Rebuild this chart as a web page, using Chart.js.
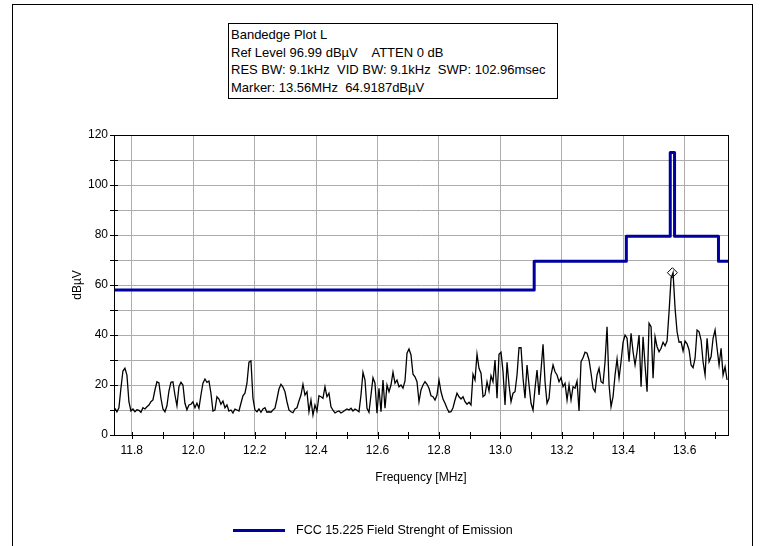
<!DOCTYPE html>
<html>
<head>
<meta charset="utf-8">
<title>Bandedge Plot L</title>
<script src="https://cdn.jsdelivr.net/npm/chart.js@4.4.1/dist/chart.umd.min.js"></script>
<style>
  html, body { margin: 0; padding: 0; background: #fff; }
  #wrap { position: relative; width: 765px; height: 546px; overflow: hidden; font-family: "Liberation Sans", Arial, sans-serif; color: #000; }
  #frame { position: absolute; left: 12px; top: 4px; width: 739px; height: 600px; border: 1px solid #000; }
  #info { position: absolute; left: 228px; top: 23px; width: 326px; height: 72px; border: 1px solid #000; background: #fff;
          font-size: 13px; line-height: 17.7px; padding: 2px 0 0 2px; white-space: pre; }
  #legend { position: absolute; left: 233px; top: 521px; font-size: 12.5px; line-height: 18px; white-space: pre; }
  #legend span.swatch { position: absolute; left: 0; top: 8px; width: 52px; height: 3px; background: #0000a0; }
  #legend span.label { position: absolute; left: 63px; top: 0; }
  canvas { position: absolute; left: 0; top: 0; }
</style>
</head>
<body>
<div id="wrap">
  <div id="frame"></div>
  <canvas id="plot" width="765" height="546"></canvas>
  <div id="info">Bandedge Plot L
Ref Level 96.99 dBµV    ATTEN 0 dB
RES BW: 9.1kHz  VID BW: 9.1kHz  SWP: 102.96msec
Marker: 13.56MHz  64.9187dBµV</div>
  <div id="legend"><span class="swatch"></span><span class="label">FCC 15.225 Field Strenght of Emission</span></div>
</div>
<script>
// sweep settings of the analyzer trace (MHz)
const sweepStart = 11.745;
const sweepStop = 13.738;

// measured level per sweep point, dBµV
const traceLevels = [
  10.7, 9.3, 10.9, 18.7, 25.6, 26.7, 24, 13.3, 9.6, 10.4,
  9.3, 10.1, 9.9, 9.1, 10.9, 10.4, 11.3, 12, 13.3, 14,
  18, 21.3, 20.8, 14.7, 10.4, 9.3, 11.7, 17.6, 21.1, 21.3,
  16, 11.7, 19.3, 21.1, 20, 12.7, 10.1, 12, 12.3, 13.3,
  10.9, 12.7, 10.7, 16, 20.7, 22.4, 21.1, 21.6, 16.7, 9.6,
  10, 15.3, 14.4, 12.3, 13.6, 10.9, 12, 9.6, 10, 8.8,
  10.4,
  10, 9.6, 12.7, 15.7, 16.7, 20.7, 29.1, 29.6, 14.7, 10,
  9.3, 10.4, 9.1, 10.4, 10.9, 9.1, 9.3, 9.1, 10, 10.7,
  14.4, 18.4, 20.3, 19.2, 17.3, 13.3, 10, 9.3, 8.9, 10.4,
  10.9, 13.6, 16, 20.3, 16, 17.3, 9.3, 14, 8, 12,
  9.6, 15.7, 15.3, 14.7, 19.3, 15.3, 16.7, 11.3, 9.9, 8.8,
  9.3, 9.6, 8.8, 9.3, 9.9, 10.4, 10, 10.7, 9.6, 10.4,
  9.9,
  9.3, 16, 25.1, 22, 10.7, 9.1, 16, 22.9, 20.7, 8.7,
  18.7, 9.3, 22, 10.7, 20, 17.3, 20, 25.1, 20.7, 22,
  19.3, 20, 18.7, 21.6, 32.7, 34.4, 32, 24.3, 23.3, 21.3,
  13.3, 18, 20, 21.3, 20.3, 18.7, 15.7, 15.3, 14, 16,
  22, 17.3, 14.4, 12.7, 10.7, 9.1, 9.3, 10.9, 14, 16.7,
  15.3, 14.4, 15.3, 13.3, 12.3, 13.1, 12, 24.3, 22, 32.3,
  26.7,
  24.7, 15.3, 16, 21.3, 17.6, 23.7, 21.3, 30, 14.7, 32.3,
  33.1, 25.3, 12, 29.1, 20, 13.3, 16.7, 17.3, 24, 34.9,
  34.9, 22.7, 14.7, 28, 20, 12.7, 10, 18.7, 26, 16,
  26, 36.3, 21.3, 12.7, 14.7, 24, 28, 25.3, 24, 21.3,
  22.9, 19.3, 20.7, 14, 20, 14, 19.3, 18.7, 21.6, 9.6,
  29.3, 30.9, 33.1, 32.7, 30, 24.7, 18.7, 17.3, 24, 26.7,
  21.3,
  20.7, 29.3, 43.3, 20, 11.3, 15.3, 24, 30.4, 22.7, 29.3,
  37.1, 40, 38.7, 29.3, 40.7, 33.3, 28, 33.3, 40, 19.3,
  39.3, 28, 17.3, 44.7, 43.3, 22.7, 39.3, 35.3, 33.3, 34.7,
  37.1, 35.7, 37.6, 49.3, 62.7, 64.9, 50.7, 41.3, 37.1, 37.3,
  33.6, 37.6, 36.5, 34, 28, 26.9, 30.7, 42, 41.3, 38,
  29.3, 24, 38.7, 29.3, 31.3, 38.7, 42, 34.7, 28, 34.7,
  24, 27.3, 22
];

// FCC 15.225 limit mask
const limitFreqs  = [11.742, 13.11, 13.11, 13.41, 13.41, 13.553, 13.553, 13.567, 13.567, 13.71, 13.71, 13.741];
const limitLevels = [58, 58, 69.5, 69.5, 79.5, 79.5, 113, 113, 79.5, 79.5, 69.5, 69.5];

// peak marker
const markerFreq = 13.56;
const markerLevel = 64.9187;

// axes
const freqMin = 11.742, freqMax = 13.741;
const freqTicks = [11.8, 11.9, 12.0, 12.1, 12.2, 12.3, 12.4, 12.5, 12.6, 12.7, 12.8, 12.9,
                   13.0, 13.1, 13.2, 13.3, 13.4, 13.5, 13.6, 13.7];
const levelTicks = [0, 10, 20, 30, 40, 50, 60, 70, 80, 90, 100, 110, 120];

const gridGrey = '#acacac';
const isLabelledFreq = v => Math.round(v * 10) % 2 === 0;

const sweepStep = (sweepStop - sweepStart) / (traceLevels.length - 1);
const tracePoints = traceLevels.map((lv, i) => ({ x: sweepStart + i * sweepStep, y: lv }));
const limitPoints = limitFreqs.map((f, i) => ({ x: f, y: limitLevels[i] }));

// plot frame plus the short ticks that cross both axes
const frameAndTicks = {
  id: 'frameAndTicks',
  afterDraw(chart) {
    const { ctx, chartArea: a, scales: { x, y } } = chart;
    ctx.save();
    ctx.strokeStyle = '#000';
    ctx.lineWidth = 1;
    ctx.beginPath();
    freqTicks.forEach(v => {
      const px = Math.round(x.getPixelForValue(v)) + 0.5;
      ctx.moveTo(px, a.bottom - 3);
      ctx.lineTo(px, a.bottom + 4);
    });
    levelTicks.forEach(v => {
      const py = Math.round(y.getPixelForValue(v)) + 0.5;
      ctx.moveTo(a.left - 4, py);
      ctx.lineTo(a.left + 4, py);
    });
    ctx.stroke();
    ctx.strokeRect(Math.round(a.left) + 0.5, Math.round(a.top) + 0.5,
                   Math.round(a.right - a.left), Math.round(a.bottom - a.top));
    ctx.restore();
  }
};

Chart.defaults.font.family = '"Liberation Sans", Arial, sans-serif';
Chart.defaults.color = '#000';

new Chart(document.getElementById('plot'), {
  type: 'line',
  data: {
    datasets: [
      {
        label: 'Marker',
        data: [{ x: markerFreq, y: markerLevel }],
        showLine: false,
        pointStyle: 'rectRot',
        pointRadius: 5,
        pointBorderWidth: 1,
        pointBorderColor: '#000',
        pointBackgroundColor: 'rgba(255,255,255,0)'
      },
      {
        label: 'FCC 15.225 Field Strenght of Emission',
        data: limitPoints,
        borderColor: '#0000a0',
        borderWidth: 3,
        borderJoinStyle: 'round',
        pointRadius: 0,
        tension: 0
      },
      {
        label: 'Trace',
        data: tracePoints,
        borderColor: '#000',
        borderWidth: 1.3,
        pointRadius: 0,
        tension: 0
      }
    ]
  },
  options: {
    responsive: false,
    animation: false,
    devicePixelRatio: 1,
    layout: { padding: { left: 66, top: 135, right: 37, bottom: 57 } },
    plugins: {
      legend: { display: false },
      tooltip: { enabled: false }
    },
    scales: {
      x: {
        type: 'linear',
        min: freqMin,
        max: freqMax,
        afterBuildTicks: s => { s.ticks = freqTicks.map(v => ({ value: v })); },
        afterFit: s => { s.height = 54; },
        ticks: {
          autoSkip: false,
          maxRotation: 0,
          padding: 8,
          font: { size: 12 },
          callback: v => isLabelledFreq(v) ? v.toFixed(1) : ''
        },
        grid: {
          drawTicks: false,
          color: c => (c.tick && isLabelledFreq(c.tick.value)) ? gridGrey : 'rgba(0,0,0,0)'
        },
        border: { display: true, color: '#000' },
        title: { display: true, text: 'Frequency [MHz]', font: { size: 12 }, padding: { top: 4, bottom: 4 } }
      },
      y: {
        min: 0,
        max: 120,
        afterBuildTicks: s => { s.ticks = levelTicks.map(v => ({ value: v })); },
        afterFit: s => { s.width = 48; },
        ticks: {
          padding: 6,
          font: { size: 12 },
          callback: v => v % 20 === 0 ? String(v) : ''
        },
        grid: { drawTicks: false, color: gridGrey },
        border: { display: true, color: '#000' },
        title: { display: true, text: 'dBµV', font: { size: 12 }, padding: { top: 4, bottom: 4 } }
      }
    }
  },
  plugins: [frameAndTicks]
});
</script>
</body>
</html>
